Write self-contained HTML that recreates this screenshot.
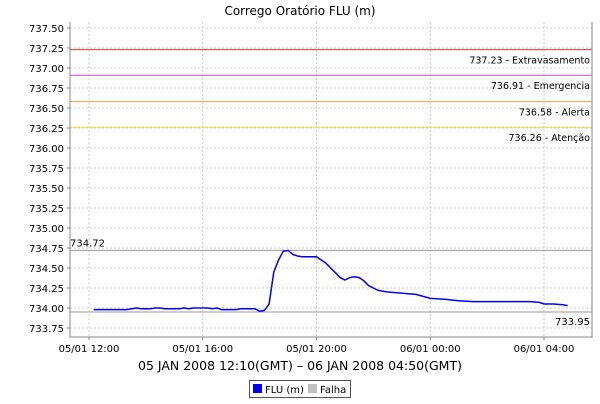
<!DOCTYPE html>
<html><head><meta charset="utf-8"><style>
body{margin:0;background:#fff;font-family:"DejaVu Sans","Liberation Sans",sans-serif}
svg text{font-family:"DejaVu Sans","Liberation Sans",sans-serif}
</style></head><body>
<svg id="c" width="600" height="400" xmlns="http://www.w3.org/2000/svg">
<rect width="600" height="400" fill="#fff"/>
<text x="300" y="15" text-anchor="middle" font-size="12">Corrego Oratório FLU (m)</text>
<g id="grid"></g><g id="refs"></g><g id="axes"></g><g id="series"></g>
<text x="300" y="370" text-anchor="middle" font-size="12.5">05 JAN 2008 12:10(GMT) – 06 JAN 2008 04:50(GMT)</text>
<g>
<rect x="249.5" y="380.5" width="101" height="17" fill="#fff" stroke="#555"/>
<rect x="253" y="384" width="9" height="9" fill="#0000ff"/>
<text x="265" y="393" font-size="10">FLU (m)</text>
<rect x="308" y="384" width="9" height="9" fill="#c0c0c0"/>
<text x="320" y="393" font-size="10">Falha</text>
</g>
</svg>
<script>
const times=[10,20,30,40,50,60,70,80,90,100,110,120,130,140,150,160,170,180,190,200,210,220,230,240,250,260,270,280,290,300,310,320,330,340,350,360,370,380,390,400,410,420,430,440,450,460,470,480,490,500,510,520,530,540,550,560,570,580,590,600,610,620,630,650,670,690,720,750,780,810,840,870,900,930,950,960,980,1000,1010];
const values=[733.98,733.98,733.98,733.98,733.98,733.98,733.98,733.98,733.99,734.0,733.99,733.99,733.99,734.0,734.0,733.99,733.99,733.99,733.99,734.0,733.99,734.0,734.0,734.0,734.0,733.99,734.0,733.98,733.98,733.98,733.98,733.99,733.99,733.99,733.99,733.96,733.97,734.05,734.45,734.6,734.71,734.72,734.67,734.65,734.64,734.64,734.64,734.64,734.6,734.56,734.5,734.44,734.38,734.35,734.38,734.39,734.38,734.34,734.28,734.25,734.22,734.21,734.2,734.19,734.18,734.17,734.12,734.11,734.09,734.08,734.08,734.08,734.08,734.08,734.07,734.05,734.05,734.04,734.03];
const yTicks=[733.75,734.0,734.25,734.5,734.75,735.0,735.25,735.5,735.75,736.0,736.25,736.5,736.75,737.0,737.25,737.5];
const xTickMinutes=[0,240,480,720,960];
const xTickLabels=["05/01 12:00","05/01 16:00","05/01 20:00","06/01 00:00","06/01 04:00"];
const refValues=[737.23,736.91,736.58,736.26];
const refLabels=["737.23 - Extravasamento","736.91 - Emergencia","736.58 - Alerta","736.26 - Atenção"];
const refColors=["#ee3333","#dd44dd","#ff9944","#eedd44"];
const minMaxValues=[734.72,733.95];
const L=70,R=592,T=22,B=337;
const y=v=>28+(737.5-v)*80;
const x=m=>89+m*(113.75/240);
const NS="http://www.w3.org/2000/svg";
function mk(tag,attrs,parent,txt){const e=document.createElementNS(NS,tag);for(const k in attrs)e.setAttribute(k,attrs[k]);if(txt!==undefined)e.textContent=txt;document.getElementById(parent).appendChild(e);return e;}
yTicks.forEach(v=>{
 const g=mk('line',{x1:L,x2:R,y1:y(v),y2:y(v),stroke:'#ccc','stroke-dasharray':'2,2'},'grid');
 
 
 const t=mk('text',{x:L-6,y:y(v)+4,'text-anchor':'end','font-size':'10'},'axes',v.toFixed(2));
 
 
 mk('line',{x1:L-3,x2:L,y1:y(v),y2:y(v),stroke:'#888'},'axes');
});
xTickMinutes.forEach((m,i)=>{
 const g=mk('line',{x1:x(m),x2:x(m),y1:T,y2:B,stroke:'#ccc','stroke-dasharray':'2,2'},'grid');
 
 
 mk('line',{x1:x(m),x2:x(m),y1:B,y2:B+3,stroke:'#888'},'axes');
 const t=mk('text',{x:x(m),y:B+15,'text-anchor':'middle','font-size':'10'},'axes',xTickLabels[i]);
 
 
});
refValues.forEach((v,i)=>{
 const l=mk('line',{x1:L,x2:R,y1:y(v),y2:y(v),stroke:refColors[i]},'refs');
 
 
 const t=mk('text',{x:R-2,y:y(v)+14,'text-anchor':'end','font-size':'9.5'},'refs',refLabels[i]);
 
 
});
minMaxValues.forEach((v,i)=>{
 const l=mk('line',{x1:L,x2:R,y1:y(v),y2:y(v),stroke:'#999'},'refs');
 
 
 const t=i==0?mk('text',{x:L,y:y(v)-4,'font-size':'10'},'refs',v.toFixed(2)):mk('text',{x:R-2,y:y(v)+13,'text-anchor':'end','font-size':'10'},'refs',v.toFixed(2));
 
 
});
const ax=mk('path',{d:`M${L},${T}V${B}H${R}V${T}`,fill:'none',stroke:'#888'},'axes');


const p=mk('path',{d:times.map((m,i)=>(i?'L':'M')+x(m).toFixed(1)+','+y(values[i]).toFixed(1)).join(''),fill:'none',stroke:'#0000ff','stroke-width':'1.5'},'series');


</script>
</body></html>
